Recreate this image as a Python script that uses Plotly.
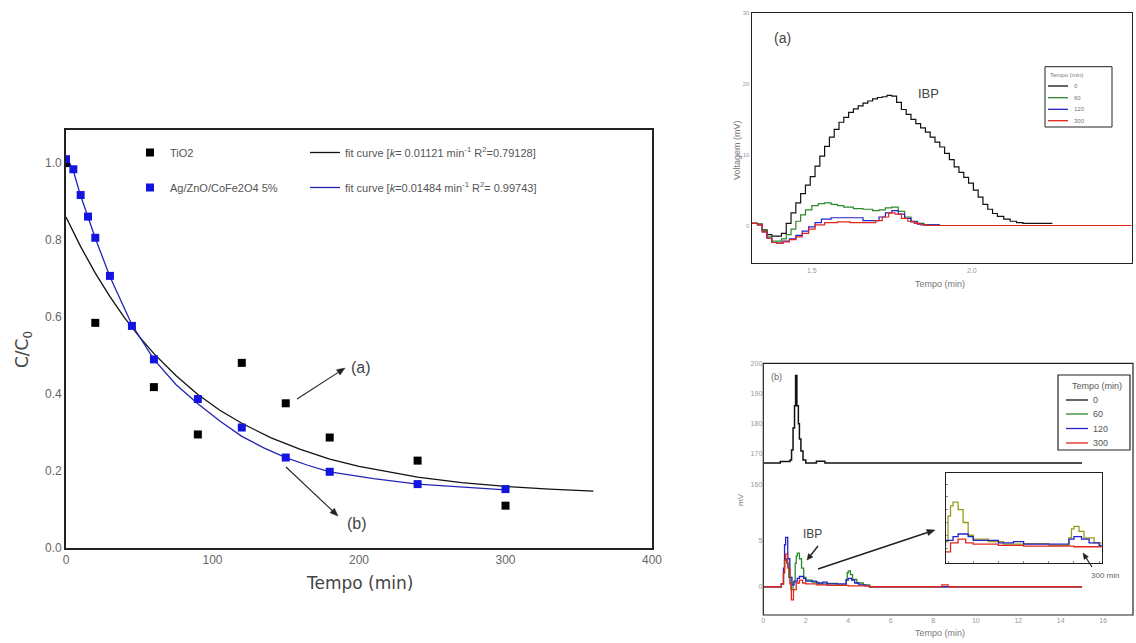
import math
import plotly.graph_objects as go

W, H = 1136, 643


def X(px):
    return px / W


def Y(py):
    return 1 - py / H


# ---------------- data: left chart (C/C0 vs time) ----------------
tio2_t = [0, 20, 60, 90, 120, 150, 180, 240, 300]
tio2_c = [1.0, 0.585, 0.418, 0.295, 0.481, 0.376, 0.287, 0.227, 0.11]
agzn_t = [0, 5, 10, 15, 20, 30, 45, 60, 90, 120, 150, 180, 240, 300]
agzn_c = [1.01, 0.984, 0.917, 0.861, 0.806, 0.707, 0.577, 0.49, 0.387, 0.313, 0.235, 0.198, 0.166, 0.153]
fit_tio2_t = [0, 10, 20, 30, 40, 50, 60, 75, 90, 105, 120, 140, 160, 180, 200, 220, 240, 270, 300, 330, 360]
fit_tio2_c = [0.860, 0.783, 0.714, 0.653, 0.598, 0.549, 0.505, 0.448, 0.399, 0.358, 0.324, 0.286, 0.256,
              0.231, 0.212, 0.197, 0.184, 0.170, 0.160, 0.153, 0.148]
fit_agzn_t = [0, 5, 10, 15, 20, 30, 45, 60, 75, 90, 105, 120, 135, 150, 165, 180, 210, 240, 270, 300]
fit_agzn_c = [1.02, 0.98, 0.915, 0.86, 0.805, 0.705, 0.58, 0.49, 0.425, 0.375, 0.33, 0.29, 0.26, 0.235,
              0.215, 0.198, 0.18, 0.166, 0.158, 0.151]
x_ticks_left = [0, 100, 200, 300, 400]
y_ticks_left = [0.0, 0.2, 0.4, 0.6, 0.8, 1.0]

# ---------------- data: top-right chromatogram (a) ----------------
a0_t = [1.312, 1.33, 1.345, 1.36, 1.375, 1.39, 1.405, 1.42, 1.435, 1.45, 1.465, 1.48, 1.495, 1.51, 1.525,
        1.54, 1.555, 1.57, 1.585, 1.6, 1.615, 1.63, 1.645, 1.66, 1.675, 1.69, 1.705, 1.72, 1.735, 1.75,
        1.765, 1.78, 1.795, 1.81, 1.825, 1.84, 1.855, 1.87, 1.885, 1.9, 1.915, 1.93, 1.945, 1.96, 1.975,
        1.99, 2.005, 2.02, 2.035, 2.05, 2.065, 2.08, 2.1, 2.12, 2.14, 2.16, 2.25]
a0_v = [0.3, 0.2, -0.6, -1.3, -1.5, -1.5, -1.1, 0.3, 1.8, 3.2, 4.5, 5.7, 6.9, 8.4, 9.8,
        11.2, 12.5, 13.6, 14.6, 15.3, 16.0, 16.5, 16.9, 17.3, 17.6, 17.9, 18.1, 18.2, 18.4, 18.3,
        17.4, 16.4, 15.7, 15.0, 14.4, 13.8, 13.2, 12.5, 11.8, 11.1, 10.2, 9.3, 8.3, 7.5, 6.8,
        6.0, 5.0, 4.0, 3.0, 2.3, 1.7, 1.3, 0.9, 0.6, 0.4, 0.3, 0.2]
a60_t = [1.312, 1.33, 1.345, 1.36, 1.375, 1.39, 1.405, 1.42, 1.435, 1.45, 1.465, 1.48, 1.5, 1.52, 1.54,
         1.56, 1.58, 1.6, 1.63, 1.66, 1.69, 1.71, 1.73, 1.75, 1.77, 1.79, 1.81, 1.83, 1.85, 1.9]
a60_v = [0.3, 0.2, -0.7, -1.6, -2.2, -2.2, -1.9, -1.3, -0.5, 0.6, 1.5, 2.2, 2.8, 3.1, 3.2,
         3.0, 2.8, 2.6, 2.4, 2.3, 2.1, 2.2, 2.5, 2.6, 2.0, 1.2, 0.6, 0.3, 0.1, 0.1]
a120_t = [1.312, 1.33, 1.345, 1.36, 1.375, 1.39, 1.41, 1.43, 1.45, 1.47, 1.49, 1.51, 1.53, 1.56, 1.6,
          1.64, 1.66, 1.69, 1.71, 1.73, 1.75, 1.77, 1.79, 1.81, 1.83, 1.85, 1.9]
a120_v = [0.3, 0.1, -0.9, -1.8, -2.4, -2.5, -2.2, -1.9, -1.4, -0.8, -0.2, 0.4, 0.9, 1.1, 1.1,
          1.1, 0.7, 0.7, 1.2, 1.8, 2.1, 1.6, 1.0, 0.5, 0.2, 0.1, 0.1]
a300_t = [1.312, 1.33, 1.345, 1.36, 1.375, 1.39, 1.41, 1.43, 1.45, 1.47, 1.49, 1.51, 1.54, 1.58, 1.62,
          1.66, 1.7, 1.72, 1.74, 1.76, 1.78, 1.8, 1.82, 1.84, 1.86, 2.5]
a300_v = [0.3, 0.1, -0.9, -1.8, -2.4, -2.5, -2.3, -2.0, -1.6, -1.1, -0.5, 0.1, 0.4, 0.5, 0.4,
          0.4, 0.7, 1.2, 1.8, 1.6, 1.0, 0.6, 0.3, 0.1, 0.0, 0.0]

# ---------------- data: bottom-right chromatogram (b) ----------------
b0_t = [0, 0.8, 1.2, 1.26, 1.33, 1.4, 1.47, 1.52, 1.58, 1.65, 1.7, 1.77, 1.87, 2.0, 2.5, 2.9, 3.0, 15.0]
b0_v = [167, 167.5, 167.5, 168, 171.3, 178.6, 186, 196, 186, 180, 175, 171, 168, 167, 167.6, 167, 167, 167]
b60_t = [0, 0.85, 0.95, 1.0, 1.1, 1.2, 1.3, 1.4, 1.5, 1.55, 1.6, 1.7, 1.8, 1.9, 2.0, 2.3, 2.6, 3.0, 3.5,
         3.9, 3.95, 4.0, 4.1, 4.2, 4.4, 4.7, 5.0, 15.0]
b60_v = [0, 0.3, 1.5, 3.0, 2.5, 1.0, -0.3, 0.5, 2.5, 3.3, 3.6, 3.0, 2.0, 1.0, 0.7, 0.5, 0.3, 0.35, 0.2,
         0.8, 1.5, 1.7, 1.3, 0.8, 0.4, 0.2, 0, 0]
b120_t = [0, 0.85, 0.95, 1.0, 1.05, 1.15, 1.25, 1.35, 1.45, 1.6, 1.7, 1.9, 2.0, 2.5, 2.8, 3.0, 3.5, 3.9,
          4.0, 4.15, 4.3, 4.5, 4.8, 5.0, 15.0]
b120_v = [0, 0.3, 2.0, 4.5, 5.3, 3.0, 1.0, 0.2, 0.6, 0.9, 1.1, 0.9, 0.6, 0.4, 0.5, 0.3, 0.3, 0.7,
          0.9, 0.7, 0.4, 0.2, 0.1, 0, 0]
b300_t = [0, 0.85, 0.95, 1.0, 1.05, 1.15, 1.25, 1.32, 1.42, 1.55, 1.7, 1.85, 2.0, 2.5, 3.0, 4.0, 5.0,
          8.4, 8.7, 15.0]
b300_v = [0, 0.3, 1.5, 2.8, 3.5, 2.0, 0.3, -1.4, -0.3, 0.4, 0.7, 0.4, 0.3, 0.2, 0.15, 0.1, 0, 0.2, 0, 0]

series_names = ["0", "60", "120", "300"]
chrom_colors = ["#111111", "#2a8a2a", "#2323c8", "#e3261c"]

FONT = "Liberation Sans, Arial, sans-serif"
fig = go.Figure()

# ---------- left chart ----------
fig.add_trace(go.Scatter(x=fit_tio2_t, y=fit_tio2_c, mode="lines", line=dict(color="#111111", width=1.3),
                         name="fit curve [<i>k</i>= 0.01121 min<sup>-1</sup> R<sup>2</sup>=0.79128]",
                         legend="legend2", legendgroup="f1", xaxis="x", yaxis="y"))
fig.add_trace(go.Scatter(x=fit_agzn_t, y=fit_agzn_c, mode="lines", line=dict(color="#2424b4", width=1.3),
                         name="fit curve [<i>k</i>=0.01484 min<sup>-1</sup> R<sup>2</sup>= 0.99743]",
                         legend="legend2", legendgroup="f2", xaxis="x", yaxis="y"))
fig.add_trace(go.Scatter(x=tio2_t, y=tio2_c, mode="markers", name="TiO2",
                         marker=dict(symbol="square", size=8, color="#000000"),
                         legend="legend", legendgroup="m1", xaxis="x", yaxis="y"))
fig.add_trace(go.Scatter(x=agzn_t, y=agzn_c, mode="markers", name="Ag/ZnO/CoFe2O4 5%",
                         marker=dict(symbol="square", size=8, color="#1414e0"),
                         legend="legend", legendgroup="m2", xaxis="x", yaxis="y"))

# ---------- top-right chart ----------
for tt, vv, nm, c in zip([a0_t, a60_t, a120_t, a300_t], [a0_v, a60_v, a120_v, a300_v], series_names, chrom_colors):
    fig.add_trace(go.Scatter(x=tt, y=vv, mode="lines", line=dict(color=c, width=1.2, shape="hv"),
                             name=nm, showlegend=False, xaxis="x2", yaxis="y2"))

# ---------- bottom-right chart ----------
fig.add_trace(go.Scatter(x=b0_t, y=b0_v, mode="lines", line=dict(color=chrom_colors[0], width=1.5, shape="hv"),
                         name="0", showlegend=False, xaxis="x3", yaxis="y3"))
for tt, vv, nm, c in zip([b60_t, b120_t, b300_t], [b60_v, b120_v, b300_v], series_names[1:], chrom_colors[1:]):
    fig.add_trace(go.Scatter(x=tt, y=vv, mode="lines", line=dict(color=c, width=1.3, shape="hv"),
                             name=nm, showlegend=False, xaxis="x4", yaxis="y4"))
# inset (zoom of the same low-level curves)
for tt, vv, nm, c in zip([b60_t, b120_t, b300_t], [b60_v, b120_v, b300_v], series_names[1:],
                         ["#9a9a1a", chrom_colors[2], chrom_colors[3]]):
    fig.add_trace(go.Scatter(x=tt, y=vv, mode="lines", line=dict(color=c, width=1.3, shape="hv"),
                             name=nm, showlegend=False, xaxis="x5", yaxis="y5"))

axis_common = dict(showgrid=False, zeroline=False, showline=True, mirror=True, linecolor="#222222")

fig.update_layout(
    width=W, height=H, margin=dict(l=0, r=0, t=0, b=0, autoexpand=False),
    paper_bgcolor="white", plot_bgcolor="white",
    font=dict(family=FONT, color="#555555"),
    xaxis=dict(axis_common, domain=[X(66), X(652)], range=[0, 400], tickvals=x_ticks_left, linewidth=1.6,
               ticks="", tickfont=dict(size=12, color="#666666"), anchor="y", automargin=False),
    yaxis=dict(axis_common, domain=[Y(548), Y(130)], range=[0, 1.086], tickvals=y_ticks_left, tickformat=".1f",
               linewidth=1.6, ticks="", tickfont=dict(size=12, color="#666666"), anchor="x", automargin=False),
    xaxis2=dict(axis_common, domain=[X(751.7), X(1131.7)], range=[1.312, 2.5], tickvals=[1.5, 2.0, 2.5],
                tickformat=".1f", linewidth=1.2, ticks="", tickfont=dict(size=7, color="#999999"), anchor="y2",
                automargin=False),
    yaxis2=dict(axis_common, domain=[Y(263), Y(13.3)], range=[-5.3, 30], tickvals=[0, 10, 20, 30],
                linewidth=1.2, ticks="", tickfont=dict(size=6, color="#999999"), anchor="x2", automargin=False),
    xaxis3=dict(showgrid=False, zeroline=False, showline=False, showticklabels=False, ticks="",
                domain=[X(763.3), X(1133)], range=[0, 17.4], anchor="y3", automargin=False),
    yaxis3=dict(showgrid=False, zeroline=False, showline=False, domain=[Y(500), Y(363.3)], range=[154.8, 200],
                tickvals=[160, 170, 180, 190, 200], ticks="", tickfont=dict(size=7, color="#999999"), anchor="x3",
                automargin=False),
    xaxis4=dict(showgrid=False, zeroline=False, showline=False, domain=[X(763.3), X(1133)], range=[0, 17.4],
                tickvals=[0, 2, 4, 6, 8, 10, 12, 14, 16], ticks="", tickfont=dict(size=7, color="#999999"),
                anchor="y4", automargin=False),
    yaxis4=dict(showgrid=False, zeroline=False, showline=False, domain=[Y(615), Y(500)], range=[-3.03, 9.3],
                tickvals=[0, 5], ticks="", tickfont=dict(size=7, color="#999999"), anchor="x4", automargin=False),
    xaxis5=dict(axis_common, domain=[X(946), X(1101.7)], range=[1.46, 4.55], linewidth=1.2,
                tickvals=[1.5, 2.0, 2.5, 3.0, 3.5, 4.0, 4.5], ticks="inside", ticklen=2, tickcolor="#888",
                showticklabels=False, anchor="y5", automargin=False),
    yaxis5=dict(axis_common, domain=[Y(562.7), Y(472.7)], range=[-1.15, 5.9], linewidth=1.2,
                tickvals=[0, 1, 2, 3, 4, 5], ticks="inside", ticklen=2, tickcolor="#888",
                showticklabels=False, anchor="x5", automargin=False),
    legend=dict(x=X(130), y=Y(138), xanchor="left", yanchor="top", bgcolor="rgba(0,0,0,0)",
                font=dict(size=11, color="#555555", family=FONT), tracegroupgap=16, itemwidth=30),
    legend2=dict(x=X(305), y=Y(138), xanchor="left", yanchor="top", bgcolor="rgba(0,0,0,0)",
                 font=dict(size=11, color="#555555", family=FONT), tracegroupgap=16, itemwidth=30),
    showlegend=True,
)

shapes = []
ann = []


def arrow(tx, ty, hx, hy, width=1.2, head=8.0, half=3.2, color="#222222"):
    """Arrow from tail (tx,ty) to head (hx,hy), page pixels: a line plus a filled triangle head."""
    dx, dy = hx - tx, hy - ty
    n = math.hypot(dx, dy)
    ux, uy = dx / n, dy / n
    bx, by = hx - head * ux, hy - head * uy
    shapes.append(dict(type="line", xref="paper", yref="paper", x0=X(tx), y0=Y(ty), x1=X(bx), y1=Y(by),
                       line=dict(color=color, width=width)))
    p1 = (bx - half * uy, by + half * ux)
    p2 = (bx + half * uy, by - half * ux)
    path = "M {:.5f} {:.5f} L {:.5f} {:.5f} L {:.5f} {:.5f} Z".format(
        X(hx), Y(hy), X(p1[0]), Y(p1[1]), X(p2[0]), Y(p2[1]))
    shapes.append(dict(type="path", xref="paper", yref="paper", path=path, fillcolor=color,
                       line=dict(color=color, width=0.5)))


# bottom-right frame
shapes.append(dict(type="rect", xref="paper", yref="paper", x0=X(763.3), x1=X(1133), y0=Y(615), y1=Y(363.3),
                   line=dict(color="#222222", width=1.2)))

# top-right manual legend
shapes.append(dict(type="rect", xref="paper", yref="paper", x0=X(1045), x1=X(1112), y0=Y(127), y1=Y(66.7),
                   line=dict(color="#222222", width=1)))
ann.append(dict(x=X(1048), y=Y(75), xref="paper", yref="paper", text="Tempo (min)", showarrow=False,
                xanchor="left", yanchor="middle", font=dict(size=6, color="#777777")))
for i, (nm, c) in enumerate(zip(series_names, chrom_colors)):
    yy = [86, 97.7, 109.3, 120.7][i]
    shapes.append(dict(type="line", xref="paper", yref="paper", x0=X(1048), x1=X(1068), y0=Y(yy), y1=Y(yy),
                       line=dict(color=c, width=1.3)))
    ann.append(dict(x=X(1072), y=Y(yy), xref="paper", yref="paper", text=nm, showarrow=False,
                    xanchor="left", yanchor="middle", font=dict(size=6, color="#777777")))

# bottom-right manual legend
shapes.append(dict(type="rect", xref="paper", yref="paper", x0=X(1058), x1=X(1130), y0=Y(450), y1=Y(375),
                   line=dict(color="#222222", width=1.2)))
ann.append(dict(x=X(1097), y=Y(386), xref="paper", yref="paper", text="Tempo (min)", showarrow=False,
                xanchor="center", yanchor="middle", font=dict(size=9, color="#555555")))
for i, (nm, c) in enumerate(zip(series_names, chrom_colors)):
    yy = [400, 414, 428.5, 443][i]
    shapes.append(dict(type="line", xref="paper", yref="paper", x0=X(1066), x1=X(1088), y0=Y(yy), y1=Y(yy),
                       line=dict(color=c, width=1.3)))
    ann.append(dict(x=X(1091), y=Y(yy), xref="paper", yref="paper", text=nm, showarrow=False,
                    xanchor="left", yanchor="middle", font=dict(size=9, color="#555555")))

# left chart titles & labels
ann.append(dict(x=X(359), y=Y(583), xref="paper", yref="paper", text="Tempo (min)", showarrow=False,
                font=dict(size=17, color="#444444", family="DejaVu Sans"), xanchor="center", yanchor="middle"))
ann.append(dict(x=X(23), y=Y(350), xref="paper", yref="paper", text="C/C<sub>0</sub>", showarrow=False,
                textangle=-90, font=dict(size=17, color="#444444", family="DejaVu Sans"),
                xanchor="center", yanchor="middle"))
ann.append(dict(x=X(361), y=Y(367), xref="paper", yref="paper", text="(a)", showarrow=False,
                font=dict(size=16, color="#444444"), xanchor="center", yanchor="middle"))
ann.append(dict(x=X(357), y=Y(523), xref="paper", yref="paper", text="(b)", showarrow=False,
                font=dict(size=16, color="#444444"), xanchor="center", yanchor="middle"))
arrow(297, 399, 345, 368, width=1.1)
arrow(286, 467, 338, 516, width=1.1)

# top-right labels
ann.append(dict(x=X(782), y=Y(38), xref="paper", yref="paper", text="(a)", showarrow=False,
                font=dict(size=14, color="#444444"), xanchor="center", yanchor="middle"))
ann.append(dict(x=X(928), y=Y(93), xref="paper", yref="paper", text="IBP", showarrow=False,
                font=dict(size=13, color="#444444"), xanchor="center", yanchor="middle"))
ann.append(dict(x=X(737), y=Y(150), xref="paper", yref="paper", text="Voltagem (mV)", showarrow=False,
                textangle=-90, font=dict(size=9, color="#777777"), xanchor="center", yanchor="middle"))
ann.append(dict(x=X(940), y=Y(284), xref="paper", yref="paper", text="Tempo (min)", showarrow=False,
                font=dict(size=9, color="#777777"), xanchor="center", yanchor="middle"))

# bottom-right labels
ann.append(dict(x=X(776), y=Y(377), xref="paper", yref="paper", text="(b)", showarrow=False,
                font=dict(size=9, color="#666666"), xanchor="center", yanchor="middle"))
ann.append(dict(x=X(812), y=Y(534), xref="paper", yref="paper", text="IBP", showarrow=False,
                font=dict(size=12, color="#444444"), xanchor="center", yanchor="middle"))
arrow(818, 546, 807, 560, width=1.4, head=6, half=2.8)
arrow(818, 569, 935, 530, width=1.5, head=8, half=3.2)
ann.append(dict(x=X(1105), y=Y(575), xref="paper", yref="paper", text="300 min", showarrow=False,
                font=dict(size=8, color="#666666"), xanchor="center", yanchor="middle"))
arrow(1092, 567, 1083, 553, width=1.2, head=6, half=2.5)
ann.append(dict(x=X(740), y=Y(500), xref="paper", yref="paper", text="mV", showarrow=False, textangle=-90,
                font=dict(size=8, color="#777777"), xanchor="center", yanchor="middle"))
ann.append(dict(x=X(940), y=Y(633), xref="paper", yref="paper", text="Tempo (min)", showarrow=False,
                font=dict(size=9, color="#777777"), xanchor="center", yanchor="middle"))

fig.update_layout(shapes=shapes, annotations=ann)
fig.write_html("out.html")
